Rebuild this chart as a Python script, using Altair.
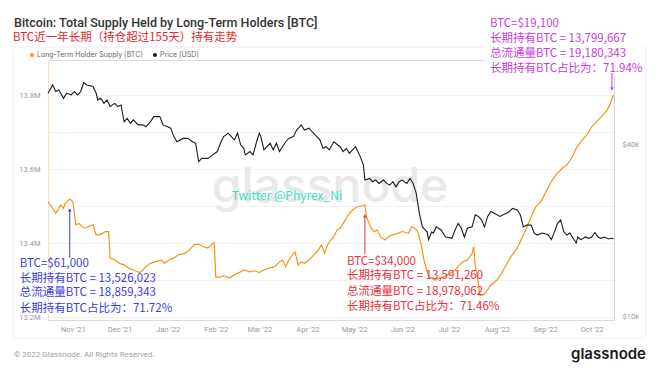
import altair as alt
import pandas as pd

# ---------------- data ----------------
START = "2021-10-16"

lth_day = [0, 3, 5, 7, 8, 10, 11, 14, 16, 18, 20, 22, 24, 26, 29, 31, 33, 35, 37, 39,
           40, 43, 46, 49, 52, 55, 59, 61, 63, 66, 69, 73, 75, 78, 81, 84, 88, 91, 94, 97,
           100, 103, 105, 107, 108, 110, 113, 117, 120, 123, 126, 130, 133, 136, 139, 142,
           146, 149, 151, 153, 155, 158, 159, 161, 163, 165, 168, 170, 174, 176, 178, 180,
           182, 184, 186, 188, 190, 192, 194, 196, 199, 202, 204, 205, 208, 210, 212, 214,
           217, 219, 222, 225, 228, 232, 234, 236, 238, 240, 242, 245, 247, 249, 252, 255,
           259, 262, 265, 267, 270, 273, 274, 275, 277, 278, 280, 282, 285, 289, 292, 295,
           298, 302, 305, 308, 311, 314, 318, 321, 324, 327, 331, 334, 337, 340, 343, 347,
           350, 353, 356, 360, 362, 364]
lth_supply_m = [13.512, 13.494, 13.480, 13.494, 13.503, 13.494, 13.507, 13.519, 13.512, 13.449,
                13.453, 13.444, 13.440, 13.444, 13.449, 13.422, 13.422, 13.426, 13.431, 13.431,
                13.359, 13.354, 13.345, 13.341, 13.332, 13.327, 13.320, 13.327, 13.336, 13.345,
                13.349, 13.354, 13.345, 13.354, 13.359, 13.368, 13.372, 13.381, 13.395, 13.397,
                13.390, 13.386, 13.395, 13.401, 13.309, 13.307, 13.311, 13.306, 13.314, 13.320,
                13.327, 13.322, 13.325, 13.320, 13.327, 13.332, 13.336, 13.349, 13.354, 13.336,
                13.354, 13.372, 13.376, 13.341, 13.349, 13.345, 13.354, 13.363, 13.381, 13.395,
                13.372, 13.395, 13.408, 13.417, 13.435, 13.440, 13.453, 13.467, 13.480, 13.489,
                13.498, 13.500, 13.503, 13.471, 13.440, 13.431, 13.435, 13.417, 13.408, 13.417,
                13.422, 13.426, 13.431, 13.426, 13.444, 13.440, 13.431, 13.399, 13.354, 13.309,
                13.305, 13.300, 13.305, 13.309, 13.318, 13.327, 13.341, 13.349, 13.354, 13.372,
                13.390, 13.341, 13.291, 13.259, 13.259, 13.268, 13.286, 13.300, 13.318, 13.341,
                13.363, 13.386, 13.413, 13.440, 13.471, 13.498, 13.516, 13.543, 13.566, 13.584,
                13.602, 13.611, 13.629, 13.656, 13.674, 13.692, 13.714, 13.728, 13.741, 13.760,
                13.778, 13.7997]

price_day = [0, 3, 5, 7, 10, 12, 15, 17, 19, 21, 23, 25, 29, 31, 32, 34, 36, 38, 40, 43,
             45, 47, 49, 51, 53, 55, 58, 61, 63, 66, 68, 72, 74, 77, 79, 81, 83, 87, 90, 93,
             95, 97, 99, 103, 106, 109, 111, 113, 116, 118, 120, 122, 124, 126, 127, 130, 132,
             134, 136, 137, 139, 143, 145, 147, 149, 151, 153, 155, 158, 160, 162, 163, 165,
             168, 170, 173, 175, 177, 179, 181, 184, 188, 190, 192, 194, 196, 198, 201, 203,
             204, 207, 209, 211, 213, 216, 218, 220, 222, 224, 226, 228, 231, 233, 235, 237,
             239, 241, 244, 245, 247, 248, 250, 253, 256, 260, 262, 264, 266, 268, 270, 273,
             275, 277, 279, 281, 283, 285, 289, 291, 293, 295, 297, 299, 302, 304, 306, 308,
             311, 313, 315, 318, 320, 322, 324, 326, 328, 330, 332, 334, 336, 338, 340, 341,
             343, 346, 348, 350, 352, 354, 356, 358, 361, 363, 364]
price_usd = [60200, 64300, 61000, 61800, 57800, 60200, 59400, 61000, 59400, 61000,
             65500, 64300, 63500, 60200, 57000, 57800, 55500, 57000, 54100, 55500,
             54100, 54800, 47900, 49200, 47300, 48600, 46700, 46700, 46000, 47900,
             49900, 49900, 46700, 46000, 45500, 42500, 40800, 41900, 41900, 40800,
             40300, 34800, 35700, 35700, 36700, 37700, 40300, 42500, 43700, 42500,
             41400, 43700, 39800, 38700, 36700, 37700, 36700, 40300, 43700, 42500,
             38200, 40300, 38200, 40300, 37700, 39200, 40800, 41900, 42500, 44800,
             46000, 46700, 44800, 45500, 44200, 42500, 41400, 38700, 39200, 38200,
             40800, 39200, 37700, 38700, 37200, 38200, 39200, 36200, 33900, 30000,
             30400, 29600, 30000, 29200, 30000, 29200, 28800, 29600, 28400, 29600,
             30000, 29200, 30400, 29200, 27000, 23000, 20600, 19800, 18600, 19800,
             19600, 20600, 20100, 19000, 18800, 20100, 21200, 20400, 19000, 20400,
             20600, 22700, 22400, 21800, 20600, 22400, 23300, 22700, 22400, 22700,
             23000, 23300, 23900, 23600, 22700, 20600, 20900, 20900, 19600, 19300,
             19600, 19500, 19300, 18600, 19800, 21200, 21800, 19800, 19300, 19600,
             18800, 18100, 19000, 18600, 19000, 18800, 19000, 19700, 19000, 18800,
             19000, 18700, 18800, 18700]

series_names = ["Long-Term Holder Supply [BTC]", "Price [USD]"]
series_colors = ["#f7931a", "#1c1c1c"]

left_ticks = [13.2, 13.3, 13.4, 13.5, 13.6, 13.7, 13.8]
right_ticks = [10000, 40000]

title_text = "Bitcoin: Total Supply Held by Long-Term Holders [BTC]"
subtitle_text = "BTC近一年长期（持仓超过155天）持有走势"
footer_text = "© 2022 Glassnode. All Rights Reserved."
logo_text = "glassnode"
twitter_text = "Twitter @Phyrex_Ni"

# annotations: arrow day, arrow tail/head (M BTC), text line positions (M BTC), lines
ann_blue_day, ann_blue_arrow = 14, [13.3595, 13.4892]
ann_blue_y = [13.3432, 13.3027, 13.2649, 13.2216]
ann_blue_lines = ["BTC=$61,000", "长期持有BTC = 13,526,023",
                  "总流通量BTC = 18,859,343", "长期持有BTC占比为：71.72%"]
ann_red_day, ann_red_arrow = 204, [13.3703, 13.4730]
ann_red_y = [13.3495, 13.3108, 13.2684, 13.2278]
ann_red_lines = ["BTC=$34,000", "长期持有BTC = 13,591,260",
                 "总流通量BTC = 18,978,062", "长期持有BTC占比为：71.46%"]
ann_mag_day, ann_mag_arrow = 363, [13.8595, 13.8162]
ann_mag_y = [13.9919, 13.9505, 13.9108, 13.8695]
ann_mag_lines = ["BTC=$19,100", "长期持有BTC = 13,799,667",
                 "总流通量BTC = 19,180,343", "长期持有BTC占比为：71.94%"]

# ---------------- build tables ----------------
start = pd.Timestamp(START)
lth_df = pd.DataFrame({"date": start + pd.to_timedelta(lth_day, unit="D"),
                       "value": lth_supply_m, "series": series_names[0]})
price_df = pd.DataFrame({"date": start + pd.to_timedelta(price_day, unit="D"),
                         "price": price_usd, "series": series_names[1]})

W, H = 566, 260
LTH_DOMAIN = [13.1919, 13.8946]
PRICE_DOMAIN = [9760, 78600]

x_scale = alt.Scale(domain=[alt.DateTime(year=2021, month=10, date=16),
                            alt.DateTime(year=2022, month=10, date=15, hours=8)])
x_enc = alt.X("date:T", scale=x_scale,
              axis=alt.Axis(format="%b '%y", tickCount="month", labelColor="#9a9a9a",
                            labelFontSize=7.5, labelFont="Roboto", domain=False, ticks=False,
                            grid=False, labelPadding=5, labelFlush=False, title=None))
y_lth_scale = alt.Scale(domain=LTH_DOMAIN, nice=False, zero=False)

color_enc = alt.Color("series:N",
                      scale=alt.Scale(domain=series_names, range=series_colors),
                      legend=None)

lth_line = alt.Chart(lth_df).mark_line(strokeWidth=1.2).encode(
    x=x_enc,
    y=alt.Y("value:Q", scale=y_lth_scale,
            axis=alt.Axis(orient="left", values=left_ticks,
                          labelExpr="(round(datum.value*10) % 2 == 0) ? format(datum.value, '.1f') + 'M' : ''",
                          labelColor="#9a9a9a", labelFontSize=7.5, labelFont="Roboto",
                          ticks=False, domainColor="#fbe0c2", gridColor="#f2f2f2",
                          labelPadding=8, title=None)),
    color=color_enc,
)

price_line = alt.Chart(price_df).mark_line(strokeWidth=1.1).encode(
    x=x_enc,
    y=alt.Y("price:Q", scale=alt.Scale(type="log", domain=PRICE_DOMAIN, nice=False),
            axis=alt.Axis(orient="right", values=right_ticks,
                          labelExpr="'$' + format(datum.value/1000, 'd') + 'k'",
                          labelColor="#9a9a9a", labelFontSize=7.5, labelFont="Roboto",
                          ticks=False, domainColor="#d4d4d4", gridColor="#f2f2f2",
                          labelPadding=8, title=None)),
    color=color_enc,
)


def annotation(day, arrow, ys, lines, color, dx, head_shape):
    d = start + pd.Timedelta(days=day)
    tdf = pd.DataFrame({"date": [d] * len(lines), "value": ys, "label": lines})
    adf = pd.DataFrame({"date": [d], "y1": [arrow[0]], "y2": [arrow[1]]})
    text = alt.Chart(tdf).mark_text(align="left", baseline="middle", dx=dx, fontSize=11.5,
                                    font="Liberation Sans Narrow, Noto Sans CJK SC",
                                    color=color).encode(
        x=alt.X("date:T", scale=x_scale),
        y=alt.Y("value:Q", scale=y_lth_scale),
        text="label:N")
    rule = alt.Chart(adf).mark_rule(color=color, strokeWidth=1).encode(
        x=alt.X("date:T", scale=x_scale),
        y=alt.Y("y1:Q", scale=y_lth_scale), y2="y2:Q")
    head = alt.Chart(adf).mark_point(shape=head_shape, filled=True, size=14, color=color,
                                     opacity=1).encode(
        x=alt.X("date:T", scale=x_scale),
        y=alt.Y("y2:Q", scale=y_lth_scale))
    return [rule, head, text]


one = pd.DataFrame({"k": [0]})


def legend_item(name, color, x):
    dot = alt.Chart(one).mark_circle(size=16, color=color, opacity=1).encode(
        x=alt.value(x), y=alt.value(-5))
    lab = alt.Chart(one).mark_text(align="left", baseline="middle", fontSize=7,
                                   font="Inter", color="#666").encode(
        x=alt.value(x + 5), y=alt.value(-5), text=alt.value(name))
    return [dot, lab]


legend_layers = (legend_item(series_names[0], series_colors[0], -16)
                 + legend_item(series_names[1], series_colors[1], 107))

border = alt.Chart(one).mark_rect(fillOpacity=0, stroke="#ececec", strokeWidth=1,
                                  cornerRadius=4).encode(
    x=alt.value(-35), x2=alt.value(598), y=alt.value(-13), y2=alt.value(278))
mag_bg = alt.Chart(one).mark_rect(fill="white", opacity=0.9).encode(
    x=alt.value(437), x2=alt.value(594), y=alt.value(-47), y2=alt.value(16))
watermark = alt.Chart(one).mark_text(fontSize=48, font="Inter", fontWeight=500,
                                     color="#e9e9e9").encode(
    x=alt.value(282), y=alt.value(128), text=alt.value(logo_text))
twitter = alt.Chart(one).mark_text(fontSize=12, font="Noto Sans CJK SC",
                                   color="#3fdcc6").encode(
    x=alt.value(239), y=alt.value(136), text=alt.value(twitter_text))
title = alt.Chart(one).mark_text(align="left", baseline="middle", fontSize=12.5,
                                 font="Roboto", fontWeight=500, color="#333").encode(
    x=alt.value(-34), y=alt.value(-37), text=alt.value(title_text))
subtitle = alt.Chart(one).mark_text(align="left", baseline="middle", fontSize=11.5,
                                    font="Liberation Sans Narrow, Noto Sans CJK SC",
                                    color="#e8262e").encode(
    x=alt.value(-35), y=alt.value(-22), text=alt.value(subtitle_text))
footer = alt.Chart(one).mark_text(align="left", baseline="middle", fontSize=8,
                                  font="Roboto", color="#a0a0a0").encode(
    x=alt.value(-34), y=alt.value(295), text=alt.value(footer_text))
logo = alt.Chart(one).mark_text(align="right", baseline="middle", fontSize=15,
                                font="Inter", fontWeight=600, color="#1a1a1a").encode(
    x=alt.value(598), y=alt.value(294), text=alt.value(logo_text))

ann_layers = (annotation(ann_blue_day, ann_blue_arrow, ann_blue_y, ann_blue_lines,
                         "#3d3ddc", -50, "triangle-up")
              + annotation(ann_red_day, ann_red_arrow, ann_red_y, ann_red_lines,
                           "#ec2f3c", -18, "triangle-up")
              + annotation(ann_mag_day, ann_mag_arrow, ann_mag_y, ann_mag_lines,
                           "#c83ce0", -122, "triangle-down"))

left_group = alt.layer(border, mag_bg, watermark, twitter, *legend_layers, lth_line,
                       *ann_layers, title, subtitle, footer, logo)

chart = alt.layer(left_group, price_line).resolve_scale(y="independent").properties(
    width=W, height=H,
    autosize=alt.AutoSizeParams(type="none"),
    padding={"left": 40, "top": 52, "right": 38, "bottom": 44},
).configure_view(stroke=None).configure(background="white")

chart.save("out.html", embed_options={"renderer": "svg", "actions": False})
